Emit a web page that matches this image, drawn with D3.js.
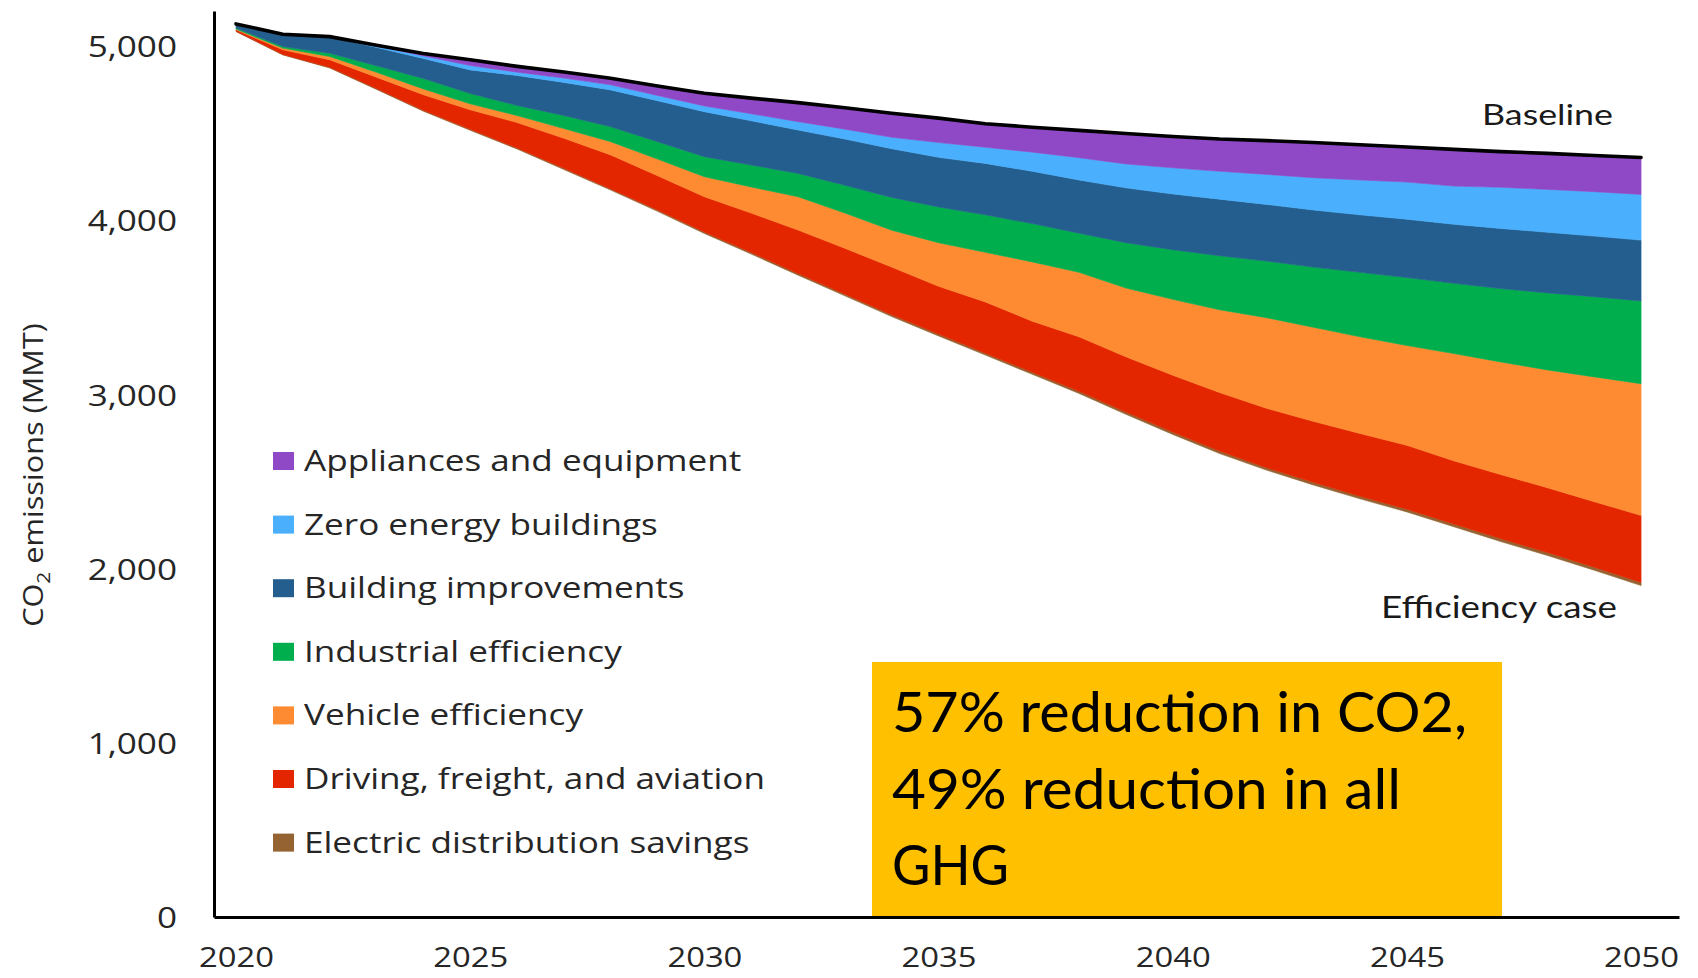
<!DOCTYPE html>
<html><head><meta charset="utf-8">
<script src="https://cdn.jsdelivr.net/npm/d3@7"></script>
<style>
html,body{margin:0;padding:0;background:#fff;}
svg{display:block;}
</style></head><body>
<svg id="chart" width="1698" height="978"></svg>
<script>
// ---------------- DATA ----------------
const years = [2020,2021,2022,2023,2024,2025,2026,2027,2028,2029,2030,2031,2032,2033,2034,2035,2036,2037,2038,2039,2040,2041,2042,2043,2044,2045,2046,2047,2048,2049,2050];
const efficiencyCase = [5082,4948,4873,4750,4625,4515,4408,4290,4172,4050,3923,3805,3684,3565,3446,3335,3225,3115,3005,2885,2770,2660,2565,2480,2400,2325,2240,2155,2075,1990,1902];
const electricDistribution = [2,3,4,5,5,6,6,7,7,8,8,9,9,10,10,11,11,12,12,13,13,14,14,15,15,16,16,17,17,18,18];
const drivingFreightAviation = [8,26,43,65,90,112,146,173,195,197,203,226,250,263,274,274,294,293,313,317,327,336,341,350,360,366,362,368,372,376,385];
const vehicleEfficiency = [4,10,19,28,33,34,40,55,76,95,115,150,191,202,212,250,285,340,370,395,435,475,520,540,555,573,616,646,676,716,756];
const industrialEfficiency = [6,9,19,38,60,60,58,75,86,100,115,126,134,160,188,205,215,220,225,260,285,310,325,345,370,390,403,421,442,460,475];
const buildingImprovements = [24,71,93,105,115,135,172,190,211,235,258,254,249,265,280,285,295,300,305,315,320,325,325,328,330,335,339,345,348,348,349];
const zeroEnergyBuildings = [0,0,2,8,14,25,19,25,29,30,33,40,48,57,65,85,93,110,128,137,150,160,172,185,200,213,219,236,246,255,262];
const appliancesEquipment = [0,0,0,4,14,33,33,35,38,55,73,90,109,123,138,140,135,143,157,175,180,185,194,202,202,201,211,205,207,208,212];

const legendLabels = ["Appliances and equipment","Zero energy buildings","Building improvements","Industrial efficiency","Vehicle efficiency","Driving, freight, and aviation","Electric distribution savings"];
const xTickValues = [2020,2025,2030,2035,2040,2045,2050];
const yTickValues = [0,1000,2000,3000,4000,5000];
const annotationLines = ["57% reduction in CO2,","49% reduction in all","GHG"];

// ---------------- STYLE ----------------
const colors = {
  app:"#8F49C6", zero:"#4AB0FE", bld:"#245E8E", ind:"#00AE4E",
  veh:"#FE8B32", drive:"#E42600", elec:"#956332"
};
const legendKeys = ["app","zero","bld","ind","veh","drive","elec"];
const SX = 1.17;           // horizontal stretch of the original picture's text
const textColor = "#262626";

const svg = d3.select("#chart");
const x = d3.scaleLinear().domain([2019.53, 2050.81]).range([214, 1679]);
const y = d3.scaleLinear().domain([0, 5200]).range([917, 11]);

const rows = years.map((yr,i)=>({
  year:yr, eff:efficiencyCase[i], elec:electricDistribution[i], drive:drivingFreightAviation[i],
  veh:vehicleEfficiency[i], ind:industrialEfficiency[i], bld:buildingImprovements[i],
  zero:zeroEnergyBuildings[i], app:appliancesEquipment[i]
}));
const stacked = d3.stack().keys(["eff","elec","drive","veh","ind","bld","zero","app"])(rows);

const area = d3.area().x(d=>x(d.data.year)).y0(d=>y(d[0])).y1(d=>y(d[1]));
svg.append("g").selectAll("path").data(stacked.slice(1)).join("path")
  .attr("d", area).attr("fill", d=>colors[d.key])
  .attr("stroke", d=>colors[d.key]).attr("stroke-width", 0.6);

// baseline line (top of stack)
const line = d3.line().x(d=>x(d.data.year)).y(d=>y(d[1]));
svg.append("path").datum(stacked[stacked.length-1]).attr("d", line)
  .attr("fill","none").attr("stroke","#000").attr("stroke-width",3.6)
  .attr("stroke-linecap","round").attr("stroke-linejoin","round");

// annotation box
const box = svg.append("g");
box.append("rect").attr("x",872).attr("y",662).attr("width",630).attr("height",y(0)-662).attr("fill","#FFC000");
const boxWidths = [575,509,117];
box.selectAll("text").data(annotationLines).join("text")
  .attr("x",892).attr("y",(d,i)=>732+i*76.5)
  .attr("font-family","Lato, 'Open Sans', sans-serif").attr("font-size",56)
  .attr("fill","#000").text(d=>d)
  .attr("textLength",(d,i)=>boxWidths[i]).attr("lengthAdjust","spacingAndGlyphs");

// axes
const xAxis = svg.append("g").attr("transform",`translate(0,${y(0)})`)
  .call(d3.axisBottom(x).tickValues(xTickValues).tickSize(0).tickSizeOuter(0).tickFormat(d3.format("d")));
xAxis.select(".domain").attr("stroke","#000").attr("stroke-width",3);
xAxis.selectAll("text").attr("y",50).attr("dy",0)
  .attr("font-family","'Open Sans', sans-serif").attr("font-size",28).attr("fill",textColor);

const yAxis = svg.append("g").attr("transform",`translate(${x.range()[0]},0)`)
  .call(d3.axisLeft(y).tickValues(yTickValues).tickSize(0).tickSizeOuter(0).tickPadding(37).tickFormat(d3.format(",")));
yAxis.select(".domain").attr("stroke","#000").attr("stroke-width",3);
yAxis.selectAll("text").attr("dy","0.36em")
  .attr("font-family","'Open Sans', sans-serif").attr("font-size",30).attr("fill",textColor);

svg.selectAll(".tick text").each(function(){
  const w = this.getComputedTextLength();
  d3.select(this).attr("textLength", w*SX).attr("lengthAdjust","spacingAndGlyphs");
});

// y-axis title
const title = svg.append("text").attr("text-anchor","middle")
  .attr("font-family","'Open Sans', sans-serif").attr("font-size",28).attr("fill",textColor);
title.append("tspan").text("CO");
title.append("tspan").attr("font-size",19).attr("dy",7).text("2");
title.append("tspan").attr("dy",-7).text(" emissions (MMT)");
const tw = title.node().getComputedTextLength();
title.attr("transform",`translate(43,475) rotate(-90) scale(${304/tw},1)`);

// legend
const legend = svg.append("g");
const lg = legend.selectAll("g").data(legendKeys).join("g")
  .attr("transform",(d,i)=>`translate(273,${461+i*63.6})`);
lg.append("rect").attr("x",0).attr("y",-9).attr("width",21).attr("height",18).attr("fill",d=>colors[d]);
lg.append("text").attr("x",31).attr("y",10)
  .attr("font-family","'Open Sans', sans-serif").attr("font-size",30).attr("fill",textColor)
  .text((d,i)=>legendLabels[i])
  .each(function(){
    const w = this.getComputedTextLength();
    d3.select(this).attr("textLength", w*SX).attr("lengthAdjust","spacingAndGlyphs");
  });

// series end labels
svg.append("text").attr("x",1482).attr("y",125)
  .attr("font-family","Lato, 'Open Sans', sans-serif").attr("font-size",28).attr("fill","#1a1a1a")
  .text("Baseline").attr("textLength",131).attr("lengthAdjust","spacingAndGlyphs");
svg.append("text").attr("x",1381).attr("y",618)
  .attr("font-family","Lato, 'Open Sans', sans-serif").attr("font-size",30).attr("fill","#1a1a1a")
  .text("Efficiency case").attr("textLength",236).attr("lengthAdjust","spacingAndGlyphs");
</script>
</body></html>
